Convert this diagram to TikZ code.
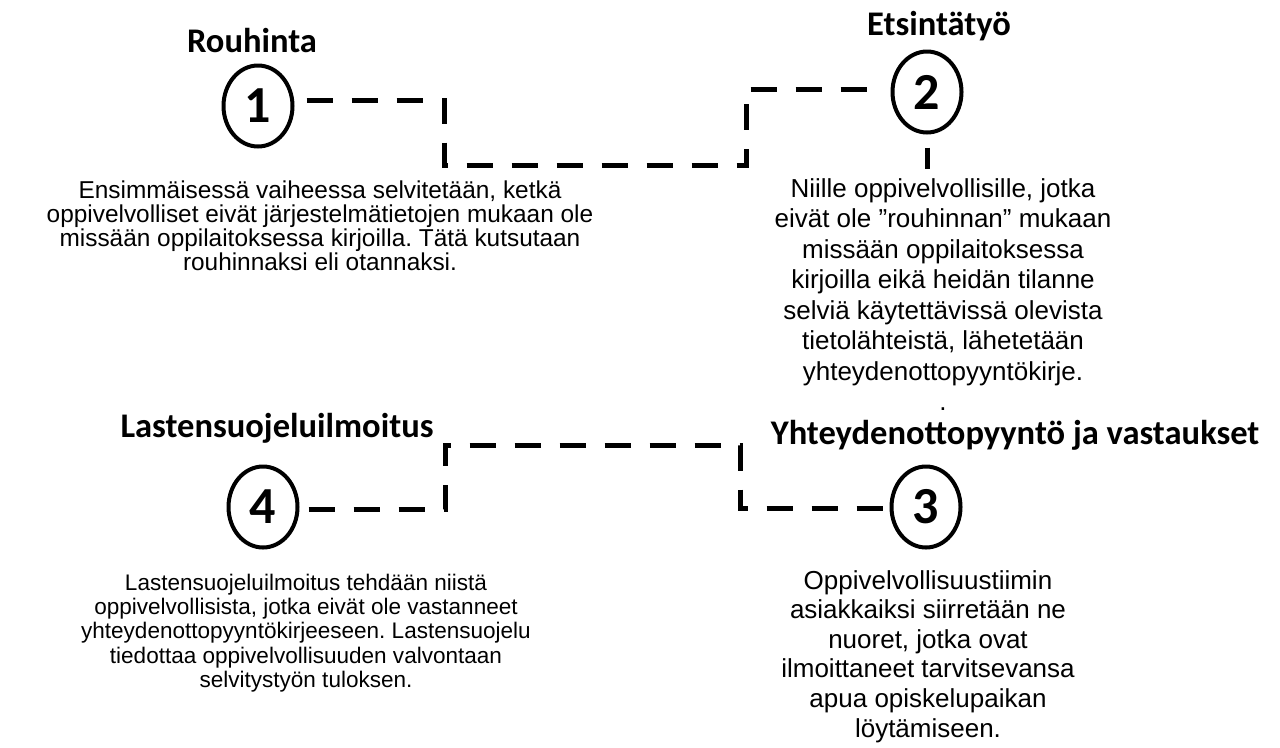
\documentclass[tikz,border=0pt]{standalone}
\usepackage{fontspec}
\setmainfont{Liberation Sans}
\newfontfamily\calibri{Carlito}
\usetikzlibrary{shapes.geometric,calc}
\frenchspacing
\begin{document}
\begin{tikzpicture}[x=0.75pt,y=-0.75pt,
  circ/.style={ellipse,draw,line width=3pt,minimum width=51.75pt,minimum height=60.75pt,inner sep=0pt,
    font=\calibri\bfseries\fontsize{39pt}{39pt}\selectfont},
  heading/.style={anchor=base,inner sep=0pt,font=\calibri\bfseries\fontsize{25.9pt}{30pt}\selectfont},
  conn/.style={line width=3.75pt,dash pattern=on 19.5pt off 14.25pt},
  body/.style={anchor=north,inner sep=0pt,align=center}]
\path[use as bounding box] (0,0) rectangle (1280,747);

% circles
\node[circ] (c1) at (258,106) {1};
\node[circ] (c2) at (927,92) {2};
\node[circ] (c3) at (926,507) {3};
\node[circ] (c4) at (263,507) {4};

% headings
\node[heading] (h1) at (252,52) {Rouhinta};
\node[heading] (h2) at (939,35) {Etsintätyö};
\node[heading] (h4) at (277,437) {Lastensuojeluilmoitus};
\node[heading] (h3) at (1015,444) {Yhteydenottopyyntö ja vastaukset};

% body texts
\node[body,font=\frenchspacing\fontsize{18.3pt}{18pt}\selectfont] (t1) at (320,180.5)
  {Ensimmäisessä vaiheessa selvitetään, ketkä\\oppivelvolliset eivät järjestelmätietojen mukaan ole\\missään oppilaitoksessa kirjoilla. Tätä kutsutaan\\rouhinnaksi eli otannaksi.};
\node[body,font=\frenchspacing\fontsize{19.5pt}{22.9pt}\selectfont] (t2) at (943,178)
  {Niille oppivelvollisille, jotka\\eivät ole ”rouhinnan” mukaan\\missään oppilaitoksessa\\kirjoilla eikä heidän tilanne\\selviä käytettävissä olevista\\tietolähteistä, lähetetään\\yhteydenottopyyntökirje.\\.};
\node[body,font=\frenchspacing\fontsize{19.5pt}{22.2pt}\selectfont] (t3) at (928,570)
  {Oppivelvollisuustiimin\\asiakkaiksi siirretään ne\\nuoret, jotka ovat\\ilmoittaneet tarvitsevansa\\apua opiskelupaikan\\löytämiseen.};
\node[body,font=\frenchspacing\fontsize{16.9pt}{18.2pt}\selectfont] (t4) at (306,573.6)
  {Lastensuojeluilmoitus tehdään niistä\\oppivelvollisista, jotka eivät ole vastanneet\\yhteydenottopyyntökirjeeseen. Lastensuojelu\\tiedottaa oppivelvollisuuden valvontaan\\selvitystyön tuloksen.};

% connector corners
\coordinate (a1) at (444,100);
\coordinate (a2) at (444,165);
\coordinate (a3) at (746,165);
\coordinate (a4) at (746,89);
\coordinate (b1) at (445,509);
\coordinate (b2) at (445,445);
\coordinate (b3) at (740,445);
\coordinate (b4) at (740,508);

\draw[conn] ($(c1.east)+(12,-6)$) -- (a1) -- (a2) -- (a3) -- (a4) -- ($(c2.west)+(-20,-3)$);
\draw[conn] ($(c4.east)+(9,2)$) -- (b1) -- (b2) -- (b3) -- (b4) -- ($(c3.west)+(0,1)$);
\draw[conn] ($(c2.south)+(0,13)$) -- ++(0,21);
\end{tikzpicture}
\end{document}
